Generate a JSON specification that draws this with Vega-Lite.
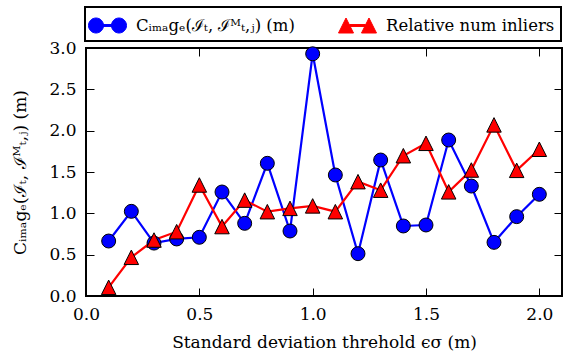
{
  "$schema": "https://vega.github.io/schema/vega-lite/v6.json",
  "width": 476,
  "height": 248,
  "autosize": {"type": "none"},
  "padding": {"left": 86, "top": 48, "right": 2, "bottom": 59},
  "background": "white",
  "config": {
    "view": {"stroke": "black", "strokeWidth": 2},
    "font": "DejaVu Serif",
    "axis": {
      "grid": false,
      "domain": false,
      "tickColor": "black",
      "tickWidth": 1,
      "tickSize": -8,
      "labelFlush": false,
      "labelFont": "DejaVu Serif",
      "labelFontSize": 17,
      "labelColor": "black",
      "titleFont": "DejaVu Serif",
      "titleFontSize": 17,
      "titleFontWeight": "normal",
      "titleColor": "black"
    },
    "legend": {"labelFont": "DejaVu Serif"}
  },
  "data": {
    "values": [
      {"x": 0.1, "v": 0.665, "s": "c"}, {"x": 0.2, "v": 1.024, "s": "c"},
      {"x": 0.3, "v": 0.64, "s": "c"}, {"x": 0.4, "v": 0.69, "s": "c"},
      {"x": 0.5, "v": 0.71, "s": "c"}, {"x": 0.6, "v": 1.258, "s": "c"},
      {"x": 0.7, "v": 0.879, "s": "c"}, {"x": 0.8, "v": 1.605, "s": "c"},
      {"x": 0.9, "v": 0.786, "s": "c"}, {"x": 1.0, "v": 2.93, "s": "c"},
      {"x": 1.1, "v": 1.464, "s": "c"}, {"x": 1.2, "v": 0.512, "s": "c"},
      {"x": 1.3, "v": 1.645, "s": "c"}, {"x": 1.4, "v": 0.847, "s": "c"},
      {"x": 1.5, "v": 0.859, "s": "c"}, {"x": 1.6, "v": 1.887, "s": "c"},
      {"x": 1.7, "v": 1.33, "s": "c"}, {"x": 1.8, "v": 0.649, "s": "c"},
      {"x": 1.9, "v": 0.96, "s": "c"}, {"x": 2.0, "v": 1.23, "s": "c"},
      {"x": 0.1, "v": 0.105, "s": "r"}, {"x": 0.2, "v": 0.468, "s": "r"},
      {"x": 0.3, "v": 0.677, "s": "r"}, {"x": 0.4, "v": 0.778, "s": "r"},
      {"x": 0.5, "v": 1.343, "s": "r"}, {"x": 0.6, "v": 0.84, "s": "r"},
      {"x": 0.7, "v": 1.16, "s": "r"}, {"x": 0.8, "v": 1.02, "s": "r"},
      {"x": 0.9, "v": 1.06, "s": "r"}, {"x": 1.0, "v": 1.09, "s": "r"},
      {"x": 1.1, "v": 1.02, "s": "r"}, {"x": 1.2, "v": 1.383, "s": "r"},
      {"x": 1.3, "v": 1.28, "s": "r"}, {"x": 1.4, "v": 1.697, "s": "r"},
      {"x": 1.5, "v": 1.847, "s": "r"}, {"x": 1.6, "v": 1.26, "s": "r"},
      {"x": 1.7, "v": 1.524, "s": "r"}, {"x": 1.8, "v": 2.07, "s": "r"},
      {"x": 1.9, "v": 1.52, "s": "r"}, {"x": 2.0, "v": 1.775, "s": "r"}
    ]
  },
  "resolve": {"axis": {"x": "independent", "y": "independent"}},
  "layer": [
    {
      "mark": {"type": "line", "strokeWidth": 2.2, "clip": false},
      "encoding": {
        "x": {"field": "x", "type": "quantitative",
          "scale": {"domain": [0, 2.1], "nice": false, "zero": false},
          "axis": {"values": [0, 0.5, 1, 1.5, 2], "format": ".1f", "labelPadding": 18, "title": "Standard deviation threhold ϵσ (m)", "titlePadding": 12}},
        "y": {"field": "v", "type": "quantitative",
          "scale": {"domain": [0, 3], "nice": false},
          "axis": {"values": [0, 0.5, 1, 1.5, 2, 2.5, 3], "format": ".1f", "labelPadding": 18, "title": "Cᵢₘₐgₑ(ℐₜ, ℐᴹₜ,ⱼ) (m)", "titlePadding": 19}},
        "color": {"field": "s", "type": "nominal",
          "scale": {"domain": ["c", "r"], "range": ["#0000ff", "#ff0000"]},
          "legend": {
            "title": null,
            "orient": "none",
            "direction": "horizontal",
            "legendX": -1,
            "legendY": -41,
            "padding": 6,
            "strokeColor": "black",
            "fillColor": "white",
            "cornerRadius": 0,
            "symbolSize": 576,
            "symbolOffset": 4,
            "labelOffset": 16,
            "columnPadding": 41,
            "labelLimit": 300,
            "labelFont": "DejaVu Serif",
            "labelFontSize": 16.5,
            "labelColor": "black",
            "labelExpr": "datum.value == 'c' ? 'Cᵢₘₐgₑ(ℐₜ, ℐᴹₜ,ⱼ) (m)' : 'Relative num inliers'",
            "encode": {
              "legend": {"update": {"strokeWidth": {"value": 2}}},
              "symbols": {
                "update": {
                  "shape": {"signal": "datum.value == 'c' ? 'M-1.583,0A0.625,0.625,0,1,0,-0.333,0A0.625,0.625,0,1,0,-1.583,0ZM0.333,0A0.625,0.625,0,1,0,1.583,0A0.625,0.625,0,1,0,0.333,0ZM-0.333,-0.08L0.333,-0.08L0.333,0.08L-0.333,0.08Z' : 'M-0.958,-0.625L-0.333,0.625L-1.583,0.625ZM0.958,-0.625L1.583,0.625L0.333,0.625ZM-0.646,-0.08L0.646,-0.08L0.646,0.08L-0.646,0.08Z'"},
                  "fill": {"signal": "datum.value == 'c' ? '#0000ff' : '#ff0000'"},
                  "stroke": {"value": "black"},
                  "strokeWidth": {"value": 1},
                  "opacity": {"value": 1},
                  "fillOpacity": {"value": 1}
                }
              }
            }
          }}
      }
    },
    {
      "transform": [{"filter": "datum.s == 'c'"}],
      "mark": {"type": "point", "shape": "circle", "filled": true, "fill": "#0000ff", "stroke": "black", "strokeWidth": 1, "opacity": 1, "size": 195, "clip": false},
      "encoding": {
        "x": {"field": "x", "type": "quantitative",
          "axis": {"orient": "top", "values": [0.5, 1, 1.5, 2], "labels": false, "title": null}},
        "y": {"field": "v", "type": "quantitative",
          "axis": {"orient": "right", "values": [0.5, 1, 1.5, 2, 2.5], "labels": false, "title": null}}
      }
    },
    {
      "transform": [{"filter": "datum.s == 'r'"}],
      "mark": {"type": "point", "shape": "M0,-1L-1,1L1,1Z", "filled": true, "fill": "#ff0000", "stroke": "black", "strokeWidth": 1, "opacity": 1, "size": 210, "clip": false},
      "encoding": {
        "x": {"field": "x", "type": "quantitative", "axis": null},
        "y": {"field": "v", "type": "quantitative", "axis": null}
      }
    }
  ]
}
